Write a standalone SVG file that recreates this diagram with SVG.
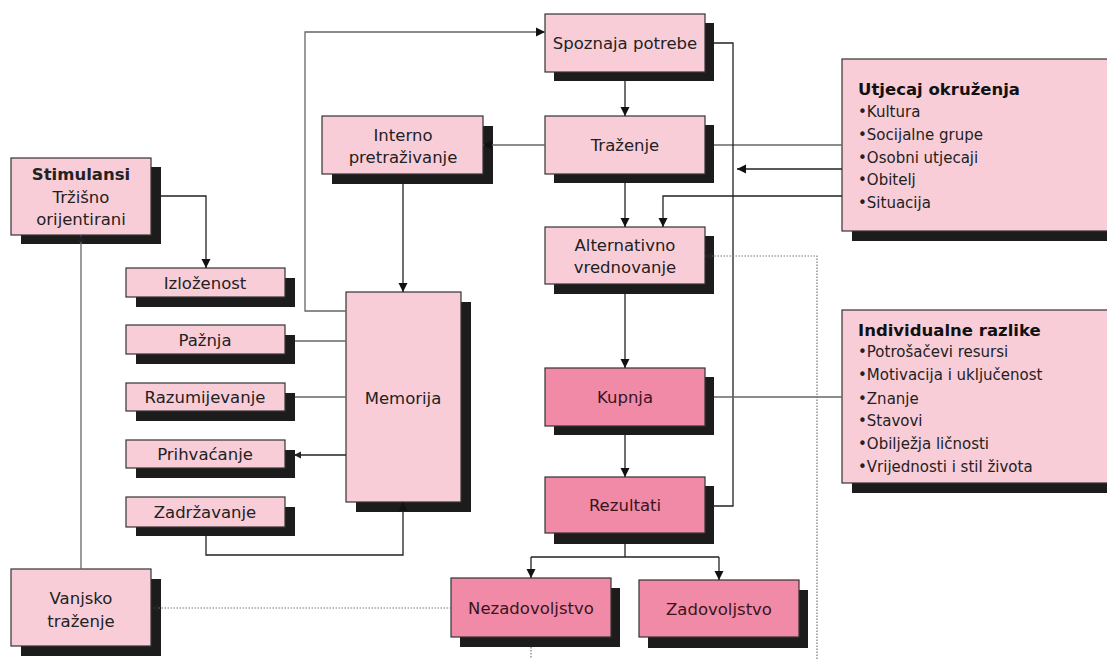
<svg xmlns="http://www.w3.org/2000/svg" width="1107" height="659" viewBox="0 0 1107 659">
<style>
text{font-family:"DejaVu Sans","Liberation Sans",sans-serif;dominant-baseline:central;}
.lt{fill:#f9cdd8;stroke:#333;stroke-width:1.2;}
.dk{fill:#f08aa6;stroke:#333;stroke-width:1.2;}
.sh{fill:#1c1c1c;}
.t{font-size:16.5px;fill:#222;text-anchor:middle;}
.td{font-size:16.5px;fill:#3a1420;text-anchor:middle;}
.b{font-weight:bold;}
.l{font-size:15px;fill:#222;}
.lb{font-size:16.5px;font-weight:bold;fill:#111;}
.g{fill:none;stroke:#666;stroke-width:1.3;}
.a{fill:none;stroke:#222;stroke-width:1.3;}
.d{fill:none;stroke:#777;stroke-width:1.2;stroke-dasharray:1.5 1.5;}
</style>
<defs>
<marker id="ar" markerWidth="10" markerHeight="10" refX="9" refY="5" orient="auto" markerUnits="userSpaceOnUse">
<path d="M0,0.5 L9,5 L0,9.5 Z" fill="#111"/>
</marker>
<marker id="as" markerWidth="8" markerHeight="8" refX="7" refY="4" orient="auto" markerUnits="userSpaceOnUse">
<path d="M0,0.5 L7,4 L0,7.5 Z" fill="#222"/>
</marker>
</defs>
<rect width="1107" height="659" fill="#fff"/>

<g id="nodes">
<g id="spoznaja"><rect class="sh" x="554" y="23" width="160" height="58"/><rect class="lt" x="545" y="14" width="160" height="58"/><text class="t" x="625" y="43">Spoznaja potrebe</text></g>
<g id="trazenje"><rect class="sh" x="554" y="125" width="160" height="58"/><rect class="lt" x="545" y="116" width="160" height="58"/><text class="t" x="625" y="145">Traženje</text></g>
<g id="alternativno"><rect class="sh" x="554" y="236" width="160" height="58"/><rect class="lt" x="545" y="227" width="160" height="57"/><text class="t" x="625" y="245">Alternativno</text><text class="t" x="625" y="267">vrednovanje</text></g>
<g id="kupnja"><rect class="sh" x="554" y="377" width="160" height="58"/><rect class="dk" x="545" y="368" width="160" height="58"/><text class="td" x="625" y="397">Kupnja</text></g>
<g id="rezultati"><rect class="sh" x="554" y="486" width="160" height="58"/><rect class="dk" x="545" y="477" width="160" height="56"/><text class="td" x="625" y="505">Rezultati</text></g>
<g id="nezadovoljstvo"><rect class="sh" x="460" y="588" width="160" height="59"/><rect class="dk" x="451" y="578" width="160" height="59"/><text class="td" x="531" y="608">Nezadovoljstvo</text></g>
<g id="zadovoljstvo"><rect class="sh" x="648" y="590" width="160" height="58"/><rect class="dk" x="639" y="580" width="160" height="57"/><text class="td" x="719" y="609">Zadovoljstvo</text></g>
<g id="interno"><rect class="sh" x="332" y="126" width="161" height="58"/><rect class="lt" x="322" y="116" width="161" height="58"/><text class="t" x="403" y="135">Interno</text><text class="t" x="403" y="157">pretraživanje</text></g>
<g id="memorija"><rect class="sh" x="356" y="302" width="115" height="210"/><rect class="lt" x="346" y="292" width="115" height="210"/><text class="t" x="403" y="398">Memorija</text></g>
<g id="stimulansi"><rect class="sh" x="21" y="167" width="140" height="77"/><rect class="lt" x="11" y="158" width="140" height="77"/><text class="t b" x="81" y="174">Stimulansi</text><text class="t" x="81" y="197">Tržišno</text><text class="t" x="81" y="219">orijentirani</text></g>
<g id="izlozenost"><rect class="sh" x="136" y="278" width="159" height="29"/><rect class="lt" x="126" y="268" width="159" height="29"/><text class="t" x="205" y="283">Izloženost</text></g>
<g id="paznja"><rect class="sh" x="136" y="335" width="159" height="29"/><rect class="lt" x="126" y="325" width="159" height="29"/><text class="t" x="205" y="340">Pažnja</text></g>
<g id="razumijevanje"><rect class="sh" x="136" y="393" width="159" height="28"/><rect class="lt" x="126" y="383" width="159" height="28"/><text class="t" x="205" y="397">Razumijevanje</text></g>
<g id="prihvacanje"><rect class="sh" x="136" y="450" width="159" height="28"/><rect class="lt" x="126" y="440" width="159" height="28"/><text class="t" x="205" y="454">Prihvaćanje</text></g>
<g id="zadrzavanje"><rect class="sh" x="136" y="507" width="159" height="29"/><rect class="lt" x="126" y="497" width="159" height="30"/><text class="t" x="205" y="512">Zadržavanje</text></g>
<g id="vanjsko"><rect class="sh" x="21" y="579" width="140" height="77"/><rect class="lt" x="11" y="569" width="140" height="77"/><text class="t" x="81" y="598">Vanjsko</text><text class="t" x="81" y="621">traženje</text></g>
<g id="utjecaj"><rect class="sh" x="852" y="69" width="270" height="172"/><rect class="lt" x="842" y="59" width="280" height="172"/>
<text class="lb" x="858" y="89">Utjecaj okruženja</text>
<text class="l" x="858" y="112">•Kultura</text>
<text class="l" x="858" y="135">•Socijalne grupe</text>
<text class="l" x="858" y="158">•Osobni utjecaji</text>
<text class="l" x="858" y="180">•Obitelj</text>
<text class="l" x="858" y="203">•Situacija</text></g>
<g id="individualne"><rect class="sh" x="852" y="320" width="270" height="173"/><rect class="lt" x="842" y="310" width="280" height="173"/>
<text class="lb" x="858" y="330">Individualne razlike</text>
<text class="l" x="858" y="352">•Potrošačevi resursi</text>
<text class="l" x="858" y="375">•Motivacija i uključenost</text>
<text class="l" x="858" y="399">•Znanje</text>
<text class="l" x="858" y="421">•Stavovi</text>
<text class="l" x="858" y="444">•Obilježja ličnosti</text>
<text class="l" x="858" y="467">•Vrijednosti i stil života</text></g>
</g>

<g id="connectors">
<path class="g" d="M346,311 H305 V32 H545" marker-end="url(#ar)"/>
<path class="a" d="M625,81 V116" marker-end="url(#ar)"/>
<path class="a" d="M625,183 V227" marker-end="url(#ar)"/>
<path class="a" d="M625,294 V368" marker-end="url(#ar)"/>
<path class="a" d="M625,435 V477" marker-end="url(#ar)"/>
<path class="a" d="M625,544 V557 M531,557 H719"/>
<path class="a" d="M531,557 V578" marker-end="url(#ar)"/>
<path class="a" d="M719,557 V580" marker-end="url(#ar)"/>
<path class="g" d="M545,145 H483" marker-end="url(#ar)"/>
<path class="g" d="M714,145 H842"/>
<path class="a" d="M842,169 H737" marker-end="url(#ar)"/>
<path class="a" d="M842,196 H663 V227" marker-end="url(#ar)"/>
<path class="a" d="M714,43 H733 V506 H714"/>
<path class="g" d="M714,397 H842"/>
<path class="a" d="M403,184 V292" marker-end="url(#ar)"/>
<path class="a" d="M161,196 H206 V268" marker-end="url(#ar)"/>
<path class="g" d="M81,569 V235" marker-end="url(#as)"/>
<path class="g" d="M295,341 H346"/>
<path class="g" d="M295,397 H346"/>
<path class="a" d="M346,455 H294" marker-end="url(#as)"/>
<path class="a" d="M206,536 V555 H403 V502" marker-end="url(#ar)"/>
<path class="d" d="M451,608 H151" marker-end="url(#as)"/>
<path class="d" d="M531,647 V659"/>
<path class="d" d="M817,659 V256 H705" marker-end="url(#as)"/>
</g>
</svg>
